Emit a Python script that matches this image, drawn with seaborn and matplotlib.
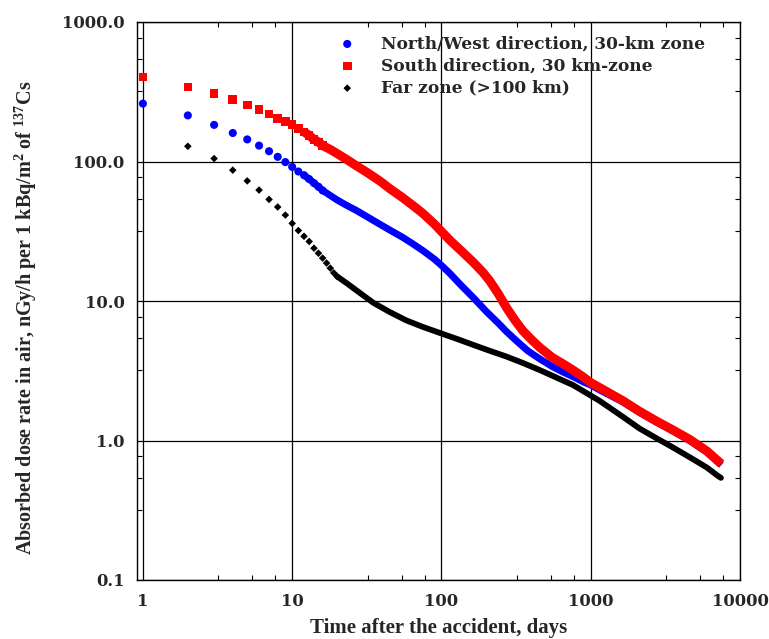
import matplotlib
matplotlib.use("Agg")
import matplotlib.pyplot as plt
import seaborn as sns
import pandas as pd
from matplotlib.ticker import FixedLocator, FixedFormatter, LogLocator, NullFormatter

# ---------------- data ----------------
nw_days = [1, 2, 3, 4, 5, 6, 7, 8, 9, 10, 11, 12, 13, 14, 15, 16, 20, 23, 27,
           32, 39, 45, 55, 65, 75, 90, 100, 113, 135, 163, 200, 240, 272, 320, 380,
           455, 550, 650, 760, 900, 1000, 1150, 1640, 2100, 2750, 3500, 4590, 6000, 7500]
nw_rate = [260, 214, 183, 160, 144, 130, 118.5, 108, 99, 91.5, 84.8, 79.8, 74.8, 70, 65.9, 62, 53, 48.7, 44.5,
           40, 35.3, 32.3, 28.6, 25.5, 23, 19.9, 18, 15.9, 13, 10.6, 8.4, 6.95, 6.05, 5.15, 4.38,
           3.85, 3.4, 3.1, 2.87, 2.62, 2.5, 2.3, 1.89, 1.6, 1.355, 1.18, 1.0, 0.825, 0.667]

south_days = [1, 2, 3, 4, 5, 6, 7, 8, 9, 10, 11, 12, 13, 14, 15, 16, 18, 20, 23, 27,
              32, 39, 45, 55, 65, 75, 90, 100, 115, 135, 163, 190, 210, 240, 272, 310,
              352, 400, 455, 550, 650, 760, 880, 1000, 1300, 1640, 2100, 2750, 3500,
              4590, 6000, 7500]
south_rate = [402, 343, 306, 279, 254, 235, 219, 204, 193, 184, 172, 163, 154, 144, 138, 130, 122, 114, 104, 93,
              83, 72, 64, 55, 48, 42.5, 35.5, 31.5, 27, 23, 19, 16, 14, 11.3, 9.0, 7.3,
              6.1, 5.3, 4.65, 3.95, 3.55, 3.2, 2.88, 2.6, 2.22, 1.93, 1.63, 1.38, 1.2,
              1.02, 0.84, 0.68]

far_days = [2, 3, 4, 5, 6, 7, 8, 9, 10, 11, 12, 13, 14, 15, 16, 17, 18, 19, 20, 23,
            27, 35, 45, 58, 75, 108, 130, 163, 210, 272, 350, 455, 600,
            760, 1000, 1150, 1640, 2120, 2750, 3500, 4590, 6000, 7070, 7450]
far_rate = [128.6, 105, 86.7, 72.6, 62.4, 53.5, 47.2, 41.3, 36, 32, 29.1, 26.7, 23.9, 22, 20.3, 18.7, 17.2, 15.9, 15.0, 13.5,
            11.9, 9.7, 8.34, 7.27, 6.52, 5.68, 5.3, 4.85, 4.4, 4.0, 3.6, 3.2, 2.8,
            2.5, 2.1, 1.92, 1.48, 1.22, 1.04, 0.9, 0.76, 0.64, 0.56, 0.54]

series_labels = ["North/West direction, 30-km zone",
                 "South direction, 30 km-zone",
                 "Far zone (>100 km)"]
x_ticks = [1, 10, 100, 1000, 10000]
x_tick_labels = ["1", "10", "100", "1000", "10000"]
y_ticks = [0.1, 1, 10, 100, 1000]
y_tick_labels = ["0.1", "1.0", "10.0", "100.0", "1000.0"]
x_label = "Time after the accident, days"
y_label = r"Absorbed dose rate in air, nGy/h per 1 kBq/m$^{2}$ of $^{137}$Cs"

# ---------------- style ----------------
sns.set_style("ticks")
plt.rcParams["font.family"] = ["DejaVu Serif", "DejaVu Sans"]
plt.rcParams["font.weight"] = "bold"
plt.rcParams["mathtext.default"] = "regular"

fig = plt.figure(figsize=(7.69, 6.39), dpi=100)
ax = fig.add_axes([137 / 769, 1 - 580 / 639, (740 - 137) / 769, (580 - 22) / 639])

nw = pd.DataFrame({"day": nw_days, "rate": nw_rate})
so = pd.DataFrame({"day": south_days, "rate": south_rate})
fa = pd.DataFrame({"day": far_days, "rate": far_rate})

# dense parts, where the daily markers merge into one continuous band
sns.lineplot(data=nw[nw.day >= 12], x="day", y="rate", color="#0000ff", lw=5.0,
             estimator=None, sort=False, ax=ax, zorder=3, solid_capstyle="butt")
sns.lineplot(data=fa[fa.day >= 20], x="day", y="rate", color="black", lw=4.2,
             estimator=None, sort=False, ax=ax, zorder=4, solid_capstyle="round")
sns.lineplot(data=so[so.day >= 12], x="day", y="rate", color="#ff0000", lw=6.5,
             estimator=None, sort=False, ax=ax, zorder=5, solid_capstyle="butt")

# sparse early days, drawn as separate markers
sns.scatterplot(data=nw[nw.day <= 16], x="day", y="rate", color="#0000ff", marker="o", s=34,
                edgecolor="none", ax=ax, zorder=3, label=series_labels[0])
sns.scatterplot(data=so[so.day <= 16], x="day", y="rate", color="#ff0000", marker="s", s=38,
                edgecolor="none", ax=ax, zorder=5, label=series_labels[1])
sns.scatterplot(data=fa[fa.day <= 20], x="day", y="rate", color="black", marker="D", s=15,
                edgecolor="none", ax=ax, zorder=4, label=series_labels[2])

ax.set_xscale("log")
ax.set_yscale("log")
ax.set_xlim(0.913, 10000)
ax.set_ylim(0.1, 1000)

ax.xaxis.set_major_locator(FixedLocator(x_ticks))
ax.xaxis.set_major_formatter(FixedFormatter(x_tick_labels))
ax.yaxis.set_major_locator(FixedLocator(y_ticks))
ax.yaxis.set_major_formatter(FixedFormatter(y_tick_labels))
ax.xaxis.set_minor_locator(LogLocator(base=10, subs=(3.2, 5.4, 7.7), numticks=20))
ax.yaxis.set_minor_locator(LogLocator(base=10, subs=(3.2, 5.4, 7.7), numticks=20))
ax.xaxis.set_minor_formatter(NullFormatter())
ax.yaxis.set_minor_formatter(NullFormatter())

ax.grid(True, which="major", color="black", lw=0.9)
ax.tick_params(which="both", direction="in", top=True, right=True, color="black")
ax.tick_params(which="major", length=0, pad=9, labelsize=11.8)
ax.tick_params(which="minor", length=3.5, width=0.8)
for lab in ax.get_xticklabels() + ax.get_yticklabels():
    lab.set_fontweight("bold")
for sp in ax.spines.values():
    sp.set_visible(True)
    sp.set_color("black")
    sp.set_linewidth(1.0)

ax.set_xlabel(x_label, family="Liberation Serif", fontweight="bold", fontsize=15, labelpad=6)
ax.set_ylabel(y_label, family="Liberation Serif", fontweight="bold", fontsize=14.5)
ax.yaxis.set_label_coords(-0.163, 0.47)

leg = ax.legend(loc="upper left", bbox_to_anchor=(0.3275, 0.976), frameon=False,
                handletextpad=1.25, labelspacing=0.3, borderpad=0, borderaxespad=0,
                handlelength=1.5,
                prop={"family": "DejaVu Serif", "weight": "bold", "size": 12.25})

fig.savefig("out.png", dpi=100)
